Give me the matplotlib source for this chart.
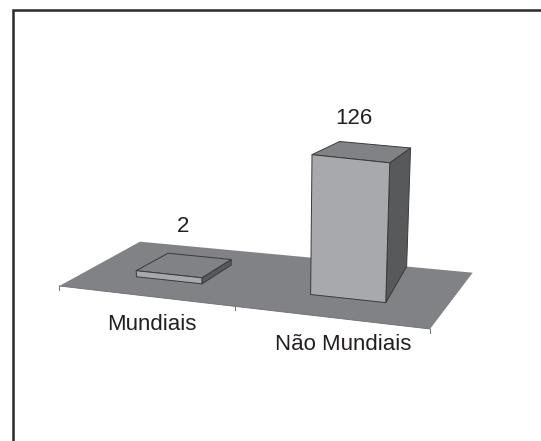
import numpy as np
import matplotlib
matplotlib.use("Agg")
import matplotlib.pyplot as plt
from matplotlib.patches import Polygon

categories = ["Mundiais", "Não Mundiais"]
values = [2, 126]

plt.rcParams['font.family'] = ['Liberation Sans', 'DejaVu Sans']
W, H = 541, 441
fig = plt.figure(figsize=(W / 100, H / 100), dpi=100)
ax = fig.add_axes([0, 0, 1, 1])
ax.set_xlim(0, W)
ax.set_ylim(H, 0)
ax.axis('off')

# floor plane calibration (u along categories, v depth), homography
src = np.array([[0, 0], [1, 0], [1, 1], [0, 1]], float)
dst = np.array([[59.3, 286], [430, 329], [472.7, 272.7], [140, 241.7]], float)
A, b = [], []
for (u, v), (x, y) in zip(src, dst):
    A.append([u, v, 1, 0, 0, 0, -u * x, -v * x]); b.append(x)
    A.append([0, 0, 0, u, v, 1, -u * y, -v * y]); b.append(y)
h = np.linalg.solve(np.array(A), np.array(b))
Hm = np.array([[h[0], h[1], h[2]], [h[3], h[4], h[5]], [h[6], h[7], 1.0]])
VP = np.array([270.0, 4400.0])   # vanishing point of the vertical edges
PX_PER_UNIT = 1.157              # height scale at the front of the floor
DEPTH_SHRINK = 0.2085            # height lost towards the back of the floor
BASE = -3.6                      # value axis minimum (floor level)


def proj(u, v, val):
    p = Hm @ np.array([u, v, 1.0])
    p = p[:2] / p[2]
    rise = (val - BASE) * PX_PER_UNIT * (1 - DEPTH_SHRINK * v)
    away = (p - VP) / np.linalg.norm(p - VP)
    return p + rise * away


def face(pts, color, z):
    ax.add_patch(Polygon([proj(*q) for q in pts], closed=True, facecolor=color,
                         edgecolor='#3a3a3c', linewidth=0.7, joinstyle='round', zorder=z))


INK = '#231f20'
FLOOR = '#808285'
FRONT = '#a7a9ac'
SIDE = '#58595b'
TOP = '#808285'

ax.add_patch(Polygon([proj(u, v, BASE) for u, v in src], closed=True, facecolor=FLOOR,
                     edgecolor='none', zorder=1))

# ticks on the front edge
for u in [0, 0.5127, 1]:
    x, y = proj(u, 0, BASE)
    ax.plot([x, x], [y, y + 4], color='#6d6e71', lw=0.7, zorder=1)
ax.plot(*zip(proj(0, 0, BASE), proj(1, 0, BASE)), color='#6d6e71', lw=0.6, zorder=2)

u_left = [0.159, 0.657]
u_right = [0.356, 0.853]
u_back_shift = [0.005, -0.031]
v_front = [0.305, 0.323]
v_back = [0.702, 0.997]
label_xy = [(151.5, 324), (343, 344.5)]
value_xy = [(183, 226), (354, 119)]

for i, val in enumerate(values):
    u0, u1, s = u_left[i], u_right[i], u_back_shift[i]
    a, c = v_front[i], v_back[i]
    z = 3 + i
    face([(u1, a, BASE), (u1 + s, c, BASE), (u1 + s, c, val), (u1, a, val)], SIDE, z)
    face([(u0, a, val), (u1, a, val), (u1 + s, c, val), (u0 + s, c, val)], TOP, z)
    face([(u0, a, BASE), (u1, a, BASE), (u1, a, val), (u0, a, val)], FRONT, z)
    ax.text(*value_xy[i], str(val), ha='center', va='center', fontsize=16, color=INK, zorder=6)
    ax.text(*label_xy[i], categories[i], ha='center', va='center', fontsize=16, color=INK, zorder=6)

# outer frame: left and top rules only
ax.plot([12.5, 12.5, W], [H, 9.5, 9.5], color='#2b2a2b', lw=1.8, zorder=7,
        solid_joinstyle='miter')

fig.savefig('out.png', dpi=100)
